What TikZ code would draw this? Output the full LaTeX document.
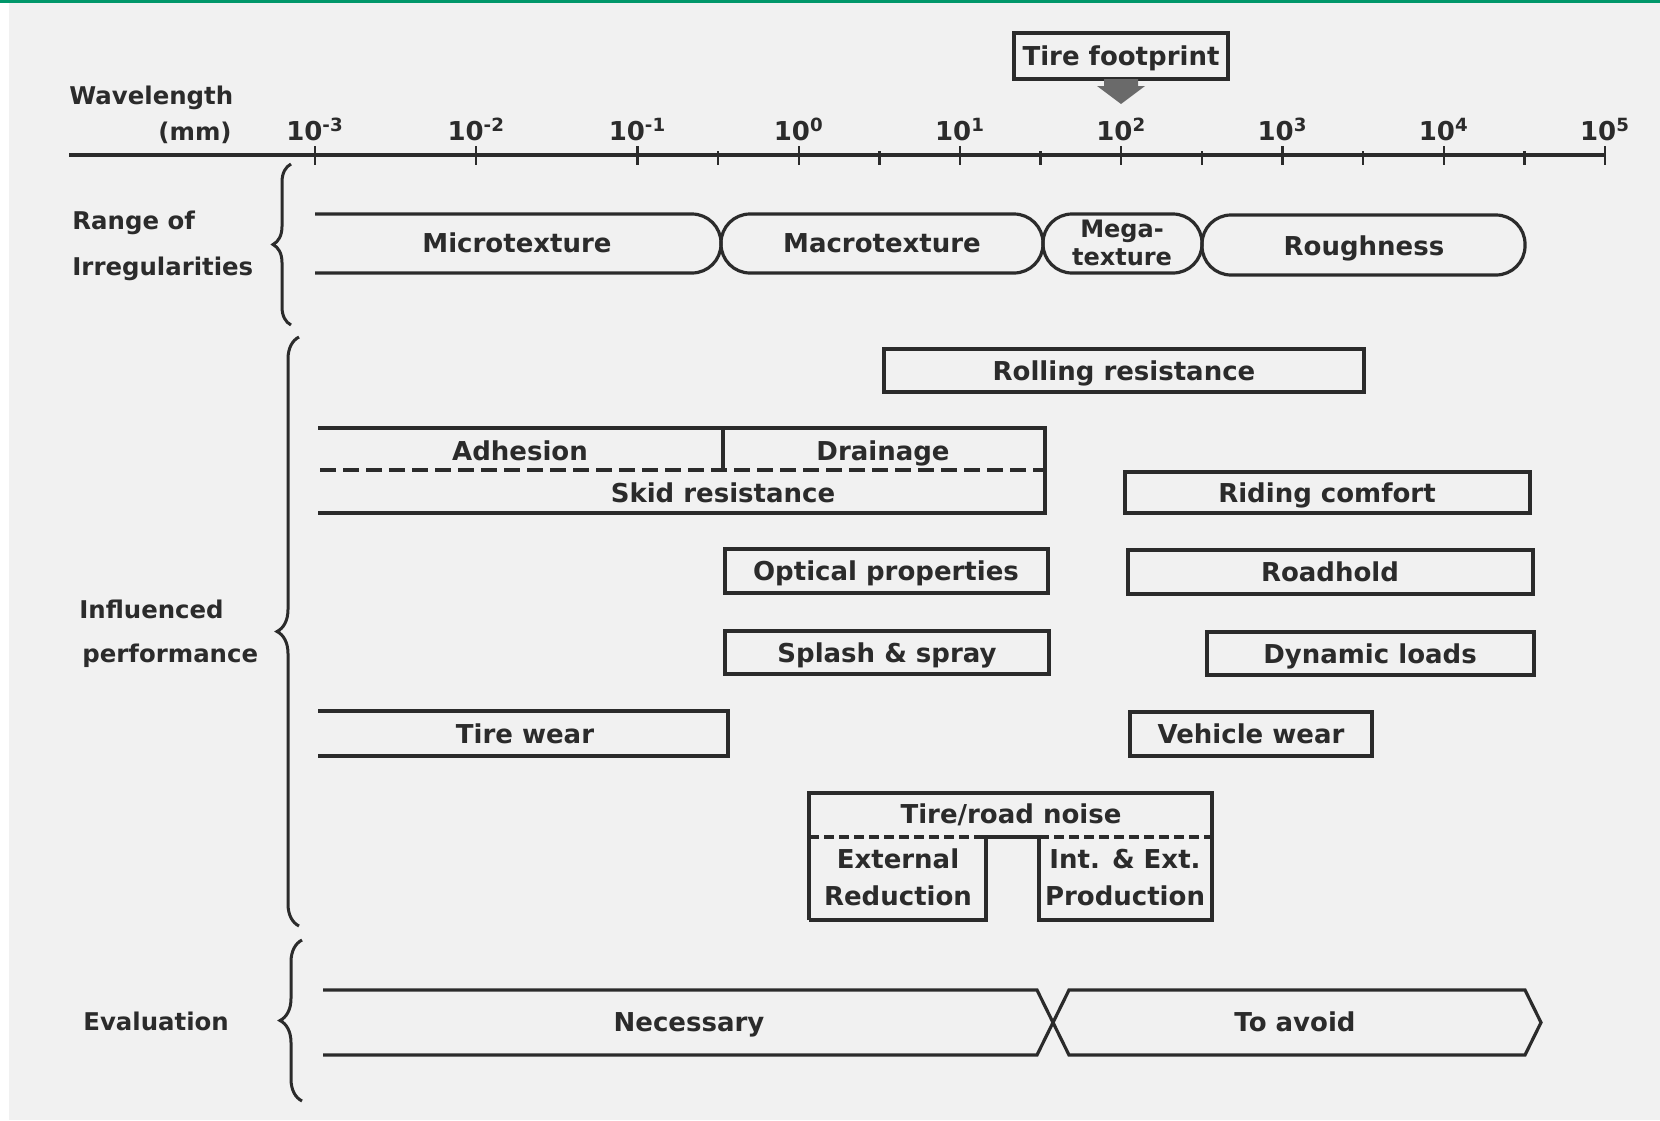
\documentclass[tikz,border=0pt]{standalone}
\usepackage{fontspec}
\setmainfont{DejaVu Sans}
\usetikzlibrary{decorations.pathreplacing}
\definecolor{ink}{HTML}{2B2B2B}
\definecolor{bg}{HTML}{F1F1F1}
\definecolor{topgreen}{HTML}{00976A}
\definecolor{arrowgray}{HTML}{6A6A6A}
\begin{document}
\begin{tikzpicture}[x=0.5pt,y=-0.5pt,
  lbl/.style={font=\bfseries\fontsize{13}{15}\selectfont, text=ink, inner sep=0pt, text height=9.5pt, text depth=0pt},
  slbl/.style={font=\bfseries\fontsize{12.2}{14}\selectfont, text=ink, inner sep=0pt, text height=9pt, text depth=0pt},
  mlbl/.style={font=\bfseries\fontsize{12}{14}\selectfont, text=ink, inner sep=0pt, align=center},
  tlbl/.style={font=\bfseries\fontsize{13}{15}\selectfont, text=ink, inner sep=0pt, anchor=base},
  ln/.style={draw=ink, line width=1.6pt},
  dsh/.style={ln, dash pattern=on 8pt off 3.5pt},
  fdsh/.style={ln, dash pattern=on 5pt off 2.5pt},
  brc/.style={draw=ink, line width=1.5pt, decorate, decoration={brace, amplitude=#1}},
  tickmark/.style={draw=ink, line width=1.2pt}]
\useasboundingbox (0,0) rectangle (1660,1120);
\fill[bg] (0,0) rectangle (1660,1120);
\fill[white] (0,0) rectangle (9,1120);
\fill[topgreen] (0,0) rectangle (1660,3);

% ---- axis ----
\coordinate (axL) at (69,155);
\coordinate (axR) at (1605,155);
\draw[ln] (axL) -- (axR);
\foreach \e [count=\i from 0] in {-3,-2,-1,0,1,2,3,4,5} {
  \pgfmathsetmacro{\xx}{315+161.25*\i}
  \draw[tickmark] (\xx,146) -- (\xx,165);
  \node[tlbl] (t\i) at (\xx,140) {10\textsuperscript{\e}};
}
\foreach \i in {2,...,7} {
  \pgfmathsetmacro{\xx}{315+161.25*(\i+0.5)}
  \draw[tickmark] (\xx,151) -- (\xx,165);
}
\node[slbl, anchor=west] (wl) at (69,95) {Wavelength};
\node[slbl, anchor=east] (mm) at (232,131) {(mm)};

% ---- tire footprint ----
\node[lbl, draw=ink, line width=1.6pt, minimum width=107pt, minimum height=23pt] (tfp) at (1121,56) {Tire footprint};
\fill[arrowgray] (1104,79) -- (1138,79) -- (1138,86) -- (1145,86) -- (1121,104) -- (1097,86) -- (1104,86) -- cycle;

% ---- range of irregularities ----
\node[slbl, anchor=west] (rng1) at (72,220) {Range of};
\node[slbl, anchor=west] (rng2) at (72,266) {Irregularities};
\draw[brc=9pt] (291,325) -- (291,164);
\draw[ln, rounded corners=14.5pt] (315,214) -- (721,214) -- (721,273) -- (315,273);
\draw[ln, rounded corners=14.5pt] (721,214) rectangle (1043,273);
\draw[ln, rounded corners=14.5pt] (1043,214) rectangle (1202,273);
\draw[ln, rounded corners=14.5pt] (1202,215) rectangle (1525,275);
\node[lbl] (micro) at (517,243) {Microtexture};
\node[lbl] (macro) at (882,243) {Macrotexture};
\node[mlbl] (mega) at (1122,243) {Mega-\\texture};
\node[lbl] (rough) at (1364,246) {Roughness};

% ---- influenced performance ----
\node[slbl, anchor=west] (inf1) at (79,609) {Influenced};
\node[slbl, anchor=west] (inf2) at (82,653) {performance};
\draw[brc=11pt] (299,926) -- (299,337);

\draw[ln] (884,349) rectangle (1364,392);
\node[lbl] (roll) at (1124,371) {Rolling resistance};

\draw[ln] (318,428) -- (1045,428) -- (1045,513) -- (318,513);
\draw[ln] (723,428) -- (723,470);
\draw[dsh] (320,470) -- (1045,470);
\node[lbl] (adh) at (520,451) {Adhesion};
\node[lbl] (drain) at (883,451) {Drainage};
\node[lbl] (skid) at (723,493) {Skid resistance};

\draw[ln] (1125,472) rectangle (1530,513);
\node[lbl] (ride) at (1327,493) {Riding comfort};

\draw[ln] (725,549) rectangle (1048,593);
\node[lbl] (opt) at (886,571) {Optical properties};

\draw[ln] (1128,550) rectangle (1533,594);
\node[lbl] (road) at (1330,572) {Roadhold};

\draw[ln] (725,631) rectangle (1049,674);
\node[lbl] (splash) at (887,653) {Splash \& spray};

\draw[ln] (1207,632) rectangle (1534,675);
\node[lbl] (dyn) at (1370,654) {Dynamic loads};

\draw[ln] (318,711) -- (728,711) -- (728,756) -- (318,756);
\node[lbl] (tirewear) at (525,734) {Tire wear};

\draw[ln] (1130,712) rectangle (1372,756);
\node[lbl] (vehwear) at (1251,734) {Vehicle wear};

\draw[ln] (809,920) -- (809,793) -- (1212,793) -- (1212,920) -- (1039,920) -- (1039,837);
\draw[ln] (809,920) -- (986,920) -- (986,837) -- (1039,837);
\draw[fdsh] (809,837) -- (986,837);
\draw[fdsh] (1039,837) -- (1212,837);
\node[lbl] (noise) at (1011,814) {Tire/road noise};
\node[lbl] (ext1) at (898,859) {External};
\node[lbl] (ext2) at (898,896) {Reduction};
\node[lbl] (int1) at (1125,859) {Int. \& Ext.};
\node[lbl] (int2) at (1125,896) {Production};

% ---- evaluation ----
\node[slbl, anchor=west] (eval) at (83,1021) {Evaluation};
\draw[brc=11pt] (302,1101) -- (302,940);
\draw[ln] (323,990) -- (1037,990) -- (1069,1055) -- (1525,1055) -- (1541,1022.5) -- (1525,990) -- (1069,990) -- (1037,1055) -- (323,1055);
\node[lbl] (nec) at (689,1022) {Necessary};
\node[lbl] (avoid) at (1295,1022) {To avoid};
\end{tikzpicture}
\end{document}
